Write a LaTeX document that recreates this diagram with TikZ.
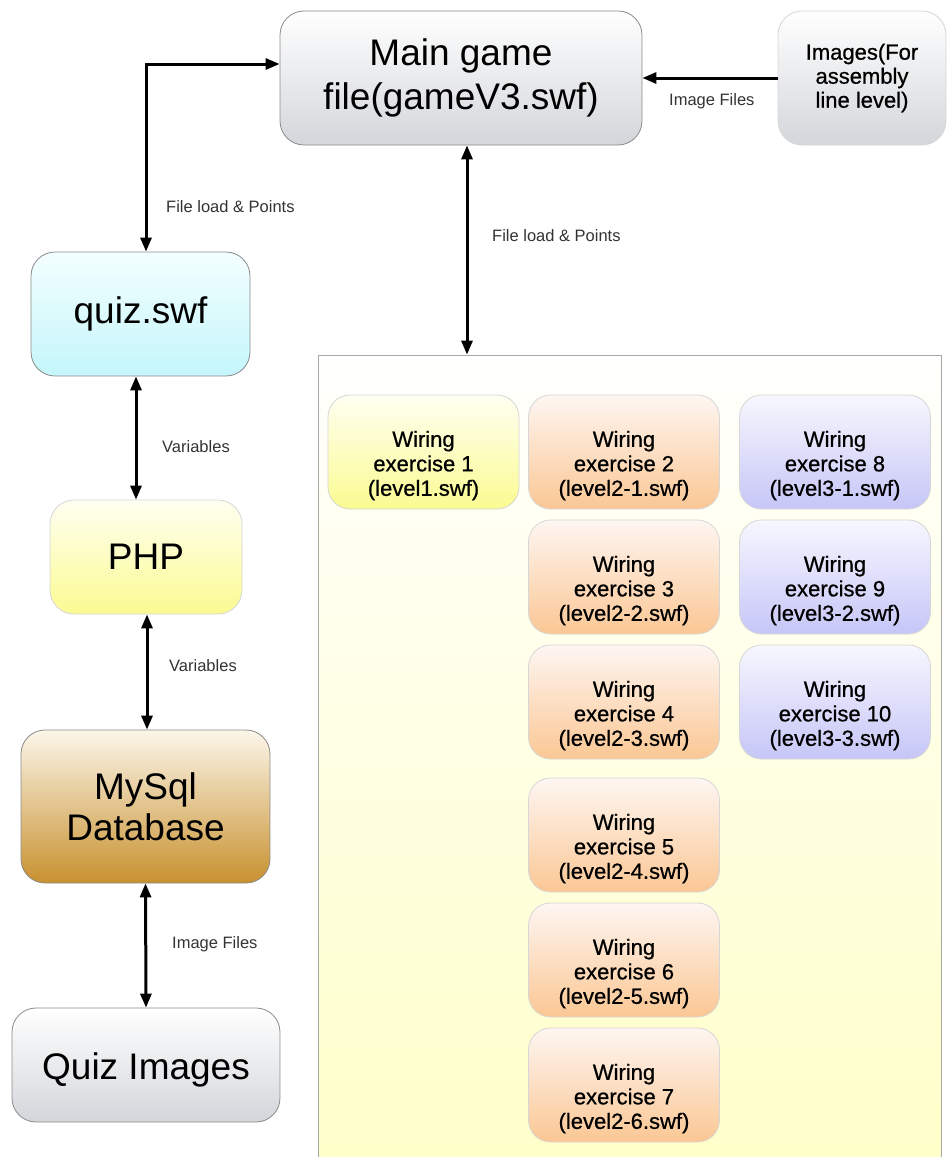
\documentclass[tikz,border=0pt]{standalone}
\usepackage{fontspec}
\setmainfont{Liberation Sans}
\newfontfamily\boxsans[FakeBold=0.7]{Liberation Sans}
\usetikzlibrary{arrows.meta}

% three centred lines, set a little below the middle of their box
\newcommand{\wiretext}[3]{\begin{tabular}{@{}c@{}}\rule{0pt}{46pt}#1\\#2\\#3\end{tabular}}

\definecolor{edgegray}{HTML}{8A8A8A}
\definecolor{softedge}{HTML}{D6D6D6}
\definecolor{graybot}{HTML}{D3D6DA}
\definecolor{cyantop}{HTML}{F4FFFF}
\definecolor{cyanbot}{HTML}{C4F6FB}
\definecolor{yeltop}{HTML}{FFFFF2}
\definecolor{yelbot}{HTML}{FBFB92}
\definecolor{dbtop}{HTML}{FCF6EA}
\definecolor{dbbot}{HTML}{C8912F}
\definecolor{orgtop}{HTML}{FEF6F2}
\definecolor{orgbot}{HTML}{FBC794}
\definecolor{purtop}{HTML}{F7F7FE}
\definecolor{purbot}{HTML}{C6C6F8}
\definecolor{paneltop}{HTML}{FFFFFD}
\definecolor{panelbot}{HTML}{FFFFC8}
\definecolor{paneledge}{HTML}{A8A8A8}
\definecolor{labelgray}{HTML}{333333}

\begin{document}
\begin{tikzpicture}[x=1pt,y=-1pt,
  rbox/.style={rectangle, rounded corners=24pt, align=center, inner sep=0pt,
    line width=0.8pt, text=black},
  bigbox/.style={rbox, font=\fontsize{37}{44}\selectfont},
  wirebox/.style={rbox, rounded corners=22pt, draw=softedge,
    minimum width=191pt, minimum height=114pt,
    font=\boxsans\fontsize{22}{24.5}\selectfont},
  lvlone/.style={wirebox, top color=yeltop, bottom color=yelbot},
  lvltwo/.style={wirebox, top color=orgtop, bottom color=orgbot},
  lvlthree/.style={wirebox, top color=purtop, bottom color=purbot},
  lbl/.style={anchor=west, inner sep=0pt, text=labelgray,
    font=\fontsize{16.5}{18}\selectfont},
  tip/.tip={Triangle[length=14pt,width=11pt]},
  link/.style={line width=3pt, tip-tip},
  onelink/.style={line width=3pt, -tip}
]
\useasboundingbox (0,0) rectangle (948,1157);
\clip (0,0) rectangle (948,1157);

% top row
\node[bigbox, draw=edgegray, top color=white, bottom color=graybot,
  minimum width=362pt, minimum height=134pt] (main) at (461,78)
  {Main game\\file(gameV3.swf)};
\node[rbox, draw=softedge, top color=white, bottom color=graybot,
  minimum width=168pt, minimum height=134pt,
  font=\boxsans\fontsize{22}{24}\selectfont] (img) at (862,78)
  {Images(For\\assembly\\line level)};

% left column
\node[bigbox, draw=edgegray, top color=cyantop, bottom color=cyanbot,
  minimum width=219pt, minimum height=124pt] (quiz) at (140.5,314) {quiz.swf};
\node[bigbox, draw=softedge, top color=yeltop, bottom color=yelbot,
  minimum width=192pt, minimum height=114pt] (php) at (146,557) {PHP};
\node[bigbox, draw=edgegray, top color=dbtop, bottom color=dbbot,
  minimum width=249pt, minimum height=153pt,
  font=\fontsize{37}{41}\selectfont] (db) at (145.5,806.5) {MySql\\Database};
\node[bigbox, draw=edgegray, top color=white, bottom color=graybot,
  minimum width=268pt, minimum height=114pt,
  execute at begin node={\rule{0pt}{37pt}}] (qimg) at (146,1065) {Quiz Images};

% panel holding the wiring exercises
\node[rectangle, draw=paneledge, line width=0.8pt, top color=paneltop,
  bottom color=panelbot, minimum width=623pt, minimum height=825pt,
  inner sep=0pt] (panel) at (629.5,767.5) {};

\node[lvlone] (w1) at (423.5,452) {\wiretext{Wiring}{exercise 1}{(level1.swf)}};
\node[lvltwo] (w2) at (624,452) {\wiretext{Wiring}{exercise 2}{(level2-1.swf)}};
\node[lvltwo] (w3) at (624,577) {\wiretext{Wiring}{exercise 3}{(level2-2.swf)}};
\node[lvltwo] (w4) at (624,702) {\wiretext{Wiring}{exercise 4}{(level2-3.swf)}};
\node[lvltwo] (w5) at (624,835) {\wiretext{Wiring}{exercise 5}{(level2-4.swf)}};
\node[lvltwo] (w6) at (624,960) {\wiretext{Wiring}{exercise 6}{(level2-5.swf)}};
\node[lvltwo] (w7) at (624,1085) {\wiretext{Wiring}{exercise 7}{(level2-6.swf)}};
\node[lvlthree] (w8) at (835,452) {\wiretext{Wiring}{exercise 8}{(level3-1.swf)}};
\node[lvlthree] (w9) at (835,577) {\wiretext{Wiring}{exercise 9}{(level3-2.swf)}};
\node[lvlthree] (w10) at (835,702) {\wiretext{Wiring}{exercise 10}{(level3-3.swf)}};

% connectors
\draw[onelink] (img.west) -- (main.east);
\draw[link] ([xshift=5.5pt]quiz.north) |- ([yshift=14pt]main.west);
\draw[link] ([xshift=6pt]main.south) -- ([xshift=6pt]main.south |- panel.north);
\draw[link] ([xshift=-4.5pt]quiz.south) -- ([xshift=-10pt]php.north);
\draw[link] ([xshift=1pt]php.south) -- ([xshift=1.5pt]db.north);
\draw[link] (db.south) -- (qimg.north);

% connector labels
\node[lbl] (lmain) at (669,101) {Image Files};
\node[lbl] (lquiz) at (166,207) {File load \& Points};
\node[lbl] (lpanel) at (492,236) {File load \& Points};
\node[lbl] (lvar1) at (162,447) {Variables};
\node[lbl] (lvar2) at (169,666) {Variables};
\node[lbl] (limg) at (172,944) {Image Files};
\end{tikzpicture}
\end{document}
